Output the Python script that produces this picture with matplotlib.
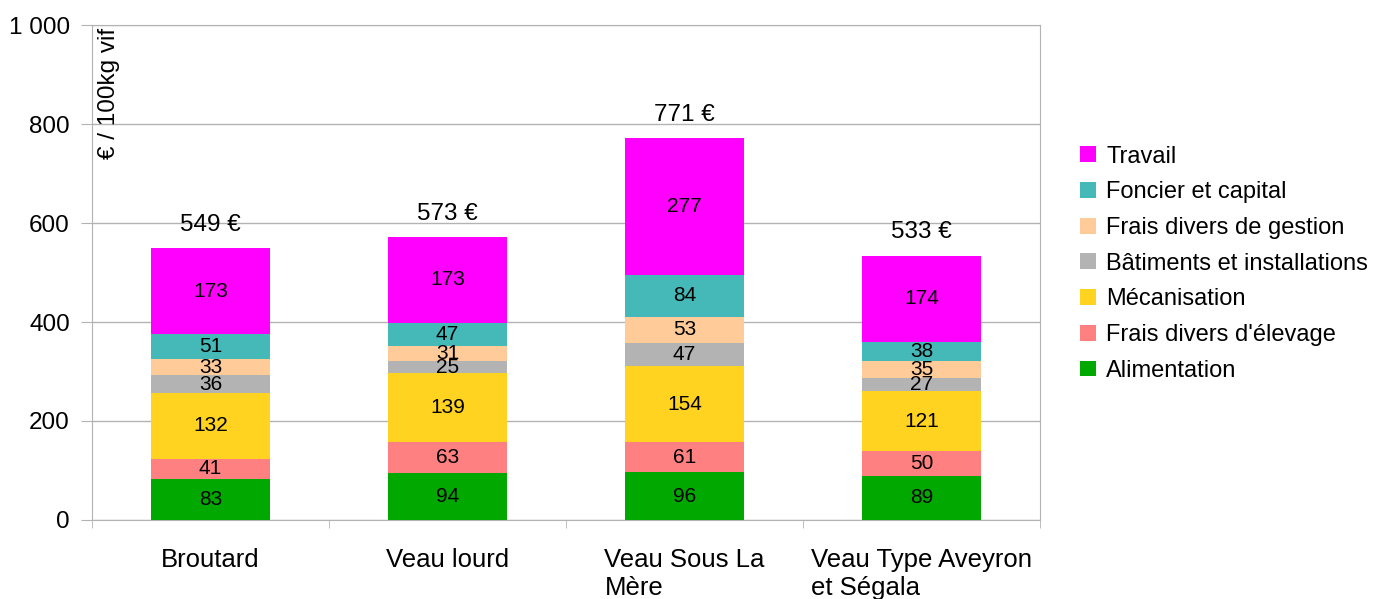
import matplotlib.pyplot as plt
import numpy as np

plt.rcParams['font.family'] = ['Liberation Sans', 'DejaVu Sans']

categories = ["Broutard", "Veau lourd", "Veau Sous La\nMère", "Veau Type Aveyron\net Ségala"]
series_names = ["Alimentation", "Frais divers d'élevage", "Mécanisation",
                "Bâtiments et installations", "Frais divers de gestion",
                "Foncier et capital", "Travail"]
alimentation = [83, 94, 96, 89]
frais_elevage = [41, 63, 61, 50]
mecanisation = [132, 139, 154, 121]
batiments = [36, 25, 47, 27]
frais_gestion = [33, 31, 53, 35]
foncier = [51, 47, 84, 38]
travail = [173, 173, 277, 174]
totals = [549, 573, 771, 533]

colors = ["#00a800", "#ff8080", "#ffd320", "#b3b3b3", "#ffcc99", "#45b8b8", "#ff00ff"]
series = [alimentation, frais_elevage, mecanisation, batiments, frais_gestion, foncier, travail]

fig = plt.figure(figsize=(13.96, 5.99), dpi=100)
ax = fig.add_axes([0.066, 0.132, 0.679, 0.826])

x = np.arange(len(categories))
bottom = np.zeros(len(categories))
handles = []
for name, vals, c in zip(series_names, series, colors):
    vals = np.array(vals)
    b = ax.bar(x, vals, 0.5, bottom=bottom, color=c, label=name, zorder=3)
    handles.append(b)
    for xi, v, bt in zip(x, vals, bottom):
        ax.text(xi, bt + v / 2, str(v), ha='center', va='center', fontsize=15, zorder=4)
    bottom += vals

for xi, t, top in zip(x, totals, bottom):
    ax.text(xi, top + 25, f"{t} €", ha='center', va='bottom', fontsize=17.5)

ax.set_xlim(-0.5, 3.5)
ax.set_ylim(0, 1000)
ax.set_yticks(range(0, 1001, 200))
ax.set_yticklabels(["0", "200", "400", "600", "800", "1 000"], fontsize=17.5)
ax.set_xticks(x)
ax.set_xticklabels(categories, fontsize=18.5)
for lbl in ax.get_xticklabels():
    lbl.set_multialignment('left')
ax.set_xticks(np.arange(-0.5, 4, 1), minor=True)
ax.tick_params(axis='x', which='major', length=0, pad=20)
ax.tick_params(axis='x', which='minor', length=6, color='#b3b3b3')
ax.tick_params(axis='y', length=8, color='#b3b3b3', pad=8)

ax.grid(axis='y', color='#b3b3b3', linewidth=1, zorder=0)
for s in ax.spines.values():
    s.set_color('#b3b3b3')

ax.text(0.006, 0.995, "€ / 100kg vif", transform=ax.transAxes, rotation=90,
        ha='left', va='top', fontsize=17.5)

ax.legend(handles[::-1], series_names[::-1], loc='center left', bbox_to_anchor=(1.02, 0.518),
          frameon=False, fontsize=17, handlelength=0.65, handleheight=0.65,
          handletextpad=0.45, labelspacing=0.58)

fig.savefig("out.png", dpi=100)
